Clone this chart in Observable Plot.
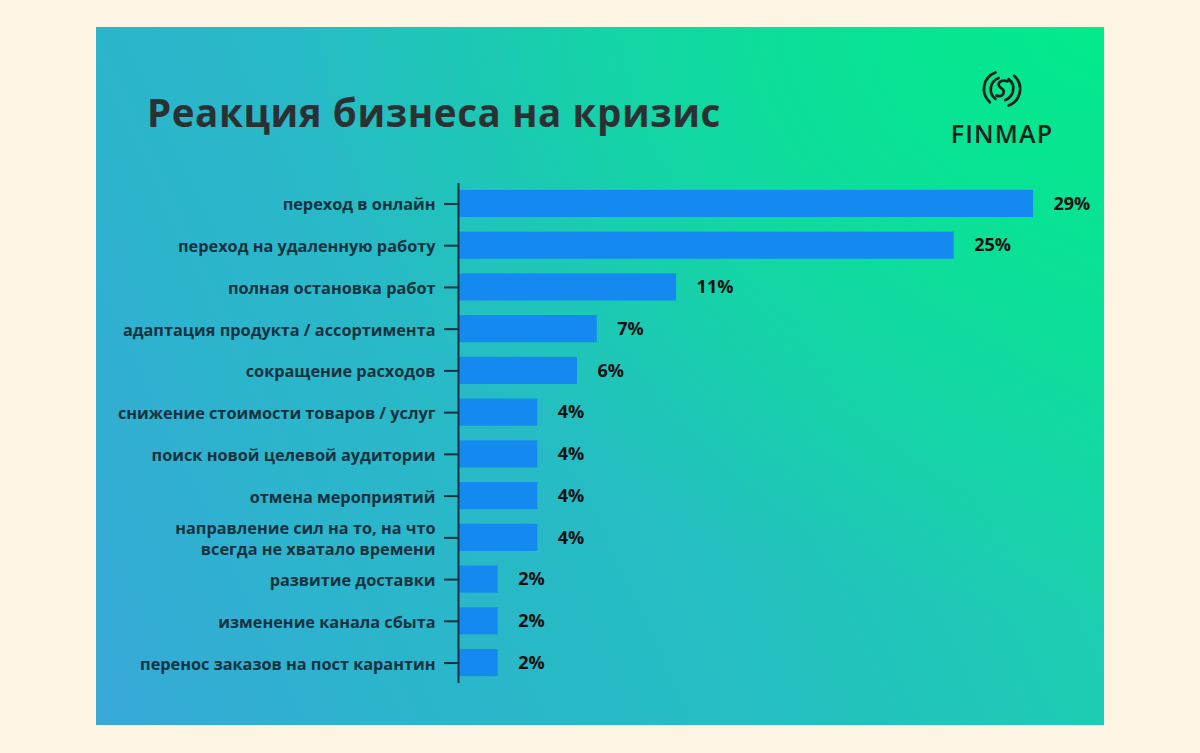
<!DOCTYPE html>
<html><head><meta charset="utf-8">
<script src="https://cdn.jsdelivr.net/npm/d3@7"></script>
<script src="https://cdn.jsdelivr.net/npm/@observablehq/plot@0.6"></script>
<style>
html,body{margin:0;padding:0;background:#fcf5e4;width:1200px;height:753px;overflow:hidden;font-family:"Open Sans",sans-serif;}
#panel{position:absolute;left:96px;top:27px;width:1008px;height:698px;
  background:
    radial-gradient(ellipse 80% 85% at 100% 0%, rgba(4,234,140,1) 0%, rgba(4,230,142,0.75) 35%, rgba(4,225,150,0) 100%),
    linear-gradient(65deg,#38a8d8 0%,#2cb4cd 22%,#25bec2 50%,#1ccfb0 80%,#10dc9c 100%);}
#title{position:absolute;left:147px;top:86px;font-size:38.5px;font-weight:700;color:#2b3033;letter-spacing:0.6px;}
#logo{position:absolute;left:942px;top:67px;width:120px;text-align:center;color:#15201c;}
#logo .name{font-size:25px;font-weight:600;letter-spacing:1.2px;margin-top:0px;}
#chart{position:absolute;left:0;top:0;}
</style></head>
<body>
<div id="panel"></div>
<div id="title">Реакция бизнеса на кризис</div>
<div id="logo">
<svg width="44" height="44" viewBox="0 0 40 40" fill="none" stroke="#15201c" stroke-width="2.5" stroke-linecap="round">
<path d="M14 5 A16 16 0 0 0 9 32"/>
<path d="M17 10 A11 11 0 0 0 14 29"/>
<path d="M26 35 A16 16 0 0 0 31 8"/>
<path d="M23 30 A11 11 0 0 0 26 11"/>
<path d="M25 13 C19 11 14 15 19 19 C24 22 21 28 15 26"/>
</svg>
<div class="name">FINMAP</div>
</div>
<div id="chart"></div>
<script>
const categories = [
  "переход в онлайн",
  "переход на удаленную работу",
  "полная остановка работ",
  "адаптация продукта / ассортимента",
  "сокращение расходов",
  "снижение стоимости товаров / услуг",
  "поиск новой целевой аудитории",
  "отмена мероприятий",
  "направление сил на то, на что\nвсегда не хватало времени",
  "развитие доставки",
  "изменение канала сбыта",
  "перенос заказов на пост карантин"
];
const values = [29, 25, 11, 7, 6, 4, 4, 4, 4, 2, 2, 2];
const data = categories.map((c, i) => ({category: c, value: values[i]}));

const chart = Plot.plot({
  width: 1200,
  height: 753,
  marginTop: 183,
  marginBottom: 70,
  marginLeft: 458,
  marginRight: 167,
  style: {background: "transparent", fontFamily: "Open Sans, sans-serif"},
  x: {domain: [0, 29], axis: null},
  y: {domain: categories, paddingInner: 0.35, paddingOuter: 0.165, round: false, label: null},
  marks: [
    Plot.axisY({
      tickSize: 14, tickPadding: 9, stroke: "#16323f", strokeWidth: 2,
      fill: "#16323f", fontSize: 16.3, fontWeight: 700, lineHeight: 1.25, label: null
    }),
    Plot.barX(data, {x: "value", y: "category", fill: "#1489f0"}),
    Plot.ruleX([0], {stroke: "#16323f", strokeWidth: 2}),
    Plot.text(data, {x: "value", y: "category", text: d => d.value + "%", dx: 20, textAnchor: "start",
      fill: "#111", fontSize: 18, fontWeight: 700})
  ]
});
document.getElementById("chart").appendChild(chart);
</script>
</body></html>
